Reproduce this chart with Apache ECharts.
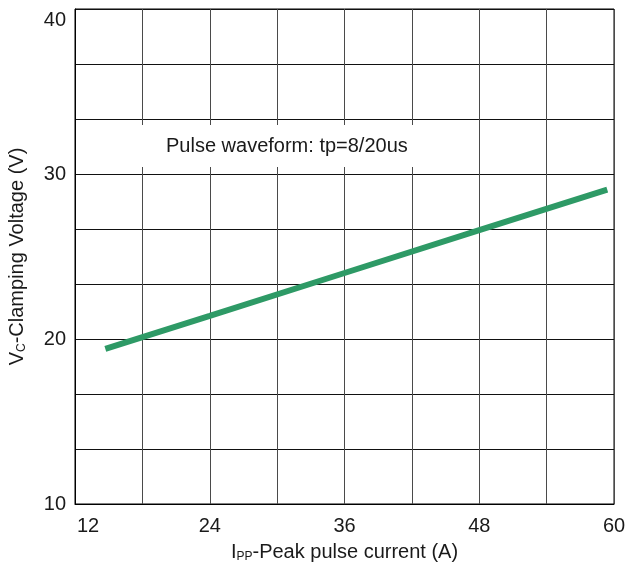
<!DOCTYPE html>
<html>
<head>
<meta charset="utf-8">
<script src="https://cdn.jsdelivr.net/npm/echarts@6/dist/echarts.min.js"></script>
<style>
  html, body { margin: 0; padding: 0; background: #fff; }
  #chart { width: 630px; height: 566px; }
</style>
</head>
<body>
<div id="chart"></div>
<script>
// data
const currentA = [14.7, 24, 36, 48, 59.4];
const clampV = [19.4, 21.4, 24.0, 26.6, 29.05];
const xTicks = [12, 24, 36, 48, 60];
const yTicks = [10, 20, 30, 40];
const noteText = 'Pulse waveform: tp=8/20us';

const FONT = '"Liberation Sans", Arial, sans-serif';
const TEXT = '#1a1a1a';
const GREEN = '#2e9a66';

const chart = echarts.init(document.getElementById('chart'));

const isTick = (list, v) => list.some((t) => Math.abs(t - v) < 1e-6);

const option = {
  animation: false,
  backgroundColor: '#fff',
  textStyle: { fontFamily: FONT, color: TEXT },
  grid: {
    left: 75,
    right: 16,
    top: 9,
    bottom: 62,
    outerBoundsMode: 'none',
    containLabel: false,
    show: true,
    borderColor: '#000',
    borderWidth: 1,
  },
  xAxis: {
    type: 'value',
    min: 12,
    max: 60,
    interval: 6,
    name: '{m|I}{s|PP}{m|-Peak pulse current (A)}',
    nameLocation: 'middle',
    nameGap: 37,
    nameTextStyle: {
      rich: {
        m: { fontSize: 20, fontFamily: FONT, color: TEXT, lineHeight: 22 },
        s: { fontSize: 12, fontFamily: FONT, color: TEXT, lineHeight: 22, verticalAlign: 'bottom', padding: [6, 0, 0, 0] },
      },
    },
    axisLine: { show: true, lineStyle: { color: '#000', width: 1 } },
    axisTick: { show: false },
    axisLabel: {
      margin: 12,
      fontSize: 20,
      color: TEXT,
      formatter: (v) => {
        if (!isTick(xTicks, v)) return '';
        if (v === xTicks[0]) return '{l|' + v + '}';
        return String(v);
      },
      rich: {
        l: { fontSize: 20, color: TEXT, padding: [0, 0, 0, 26] },
      },
    },
    splitLine: { show: true, lineStyle: { color: '#4a4a4a', width: 1 } },
  },
  yAxis: {
    type: 'value',
    min: 10,
    max: 40,
    interval: 10 / 3,
    name: '{m|V}{s|C}{m|-Clamping Voltage (V)}',
    nameLocation: 'middle',
    nameGap: 47,
    nameRotate: 90,
    nameTextStyle: {
      rich: {
        m: { fontSize: 20, fontFamily: FONT, color: TEXT, lineHeight: 22 },
        s: { fontSize: 12, fontFamily: FONT, color: TEXT, lineHeight: 22, verticalAlign: 'bottom', padding: [6, 0, 0, 0] },
      },
    },
    axisLine: { show: true, lineStyle: { color: '#000', width: 1 } },
    axisTick: { show: false },
    axisLabel: {
      margin: 9,
      fontSize: 20,
      color: TEXT,
      formatter: (v) => {
        if (!isTick(yTicks, v)) return '';
        const n = Math.round(v);
        if (n === 40) return '{t|40}';
        return String(n);
      },
      rich: {
        t: { fontSize: 20, color: TEXT, padding: [22, 0, 0, 0] },
      },
    },
    splitLine: { show: true, lineStyle: { color: '#111', width: 1 } },
  },
  graphic: [
    {
      type: 'text',
      left: 131,
      top: 125,
      z: 50,
      style: {
        text: noteText,
        font: '20px ' + FONT,
        fill: TEXT,
        backgroundColor: '#fff',
        padding: [11, 35, 11, 35],
      },
    },
  ],
  series: [
    {
      type: 'line',
      data: currentA.map((x, i) => [x, clampV[i]]),
      symbol: 'none',
      lineStyle: { color: GREEN, width: 6, cap: 'butt' },
      z: 10,
    },
  ],
};

chart.setOption(option);
</script>
</body>
</html>
